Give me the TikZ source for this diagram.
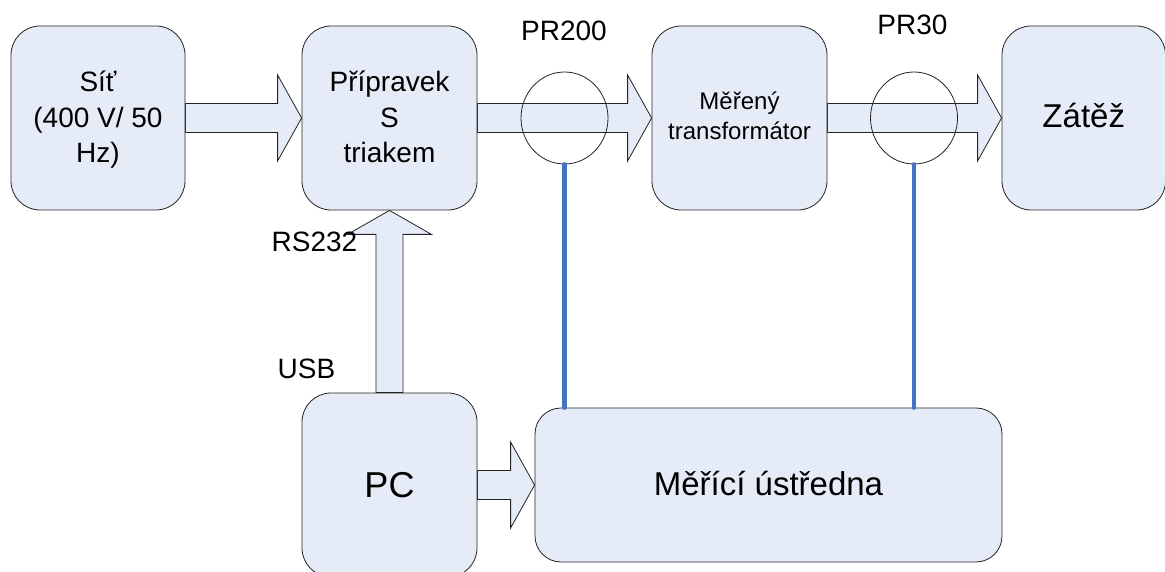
\documentclass[tikz,border=0pt]{standalone}
\usepackage{fontspec}
\setmainfont{Liberation Sans}
\usetikzlibrary{calc,shapes.geometric,backgrounds}
\definecolor{boxfill}{RGB}{230,236,247}
\definecolor{linkblue}{RGB}{68,114,196}
\definecolor{edgecol}{RGB}{35,35,35}
\newcommand{\harrow}[2]{%
  \draw[barrow] ($(#1.east)+(0,-14.5)$) -- ($(#2.west)+(-24,-14.5)$) -- ($(#2.west)+(-24,-43)$)
    -- (#2.west) -- ($(#2.west)+(-24,43)$) -- ($(#2.west)+(-24,14.5)$) -- ($(#1.east)+(0,14.5)$) -- cycle;}
\begin{document}
\begin{tikzpicture}[x=1pt,y=-1pt,
  box/.style={draw=edgecol, fill=boxfill, line width=0.8pt, inner sep=0pt, align=center},
  barrow/.style={draw=edgecol, fill=boxfill, line width=0.8pt, line join=miter},
  ring/.style={ellipse, draw=edgecol, line width=0.8pt, minimum width=87pt, minimum height=92pt, inner sep=0pt},
  wire/.style={draw=linkblue, line width=4.5pt, line cap=round},
  lbl/.style={font=\fontsize{28}{34}\selectfont, inner sep=0pt}]
\useasboundingbox (0,0) rectangle (1165,572);
% boxes
\node[box, rounded corners=29pt, minimum width=174pt, minimum height=184pt,
      font=\fontsize{28}{35.5}\selectfont] (sit) at (98,118)
  {\rule{0pt}{25pt}Síť\\(400 V/ 50\\Hz)\rule[-6pt]{0pt}{6pt}};
\node[box, rounded corners=29pt, minimum width=175pt, minimum height=184pt,
      font=\fontsize{28}{35.5}\selectfont] (pri) at (389.5,118)
  {\rule{0pt}{25pt}Přípravek\\S\\triakem\rule[-6pt]{0pt}{6pt}};
\node[box, rounded corners=29pt, minimum width=175pt, minimum height=184pt,
      font=\fontsize{24}{30}\selectfont] (mer) at (739.5,118)
  {\rule{0pt}{21pt}Měřený\\transformátor\rule[-7pt]{0pt}{7pt}};
\node[box, rounded corners=29pt, minimum width=163.5pt, minimum height=184pt,
      font=\fontsize{33}{40}\selectfont, text height=27pt, text depth=7pt] (zat) at (1083.75,118) {Zátěž};
\node[box, rounded corners=29pt, minimum width=175pt, minimum height=184pt,
      font=\fontsize{36}{43}\selectfont, text height=30pt, text depth=6pt] (pc) at (389.5,485) {PC};
\node[box, rounded corners=26pt, minimum width=467pt, minimum height=154pt,
      font=\fontsize{33}{40}\selectfont, text height=27pt, text depth=7pt] (ustr) at (768.5,485) {Měřící ústředna};
% block arrows
\begin{pgfonlayer}{background}
\harrow{sit}{pri}
\harrow{pri}{mer}
\harrow{mer}{zat}
\harrow{pc}{ustr}
\draw[barrow] ($(pc.north)+(-13.5,0)$) -- ($(pri.south)+(-13.5,24)$) -- ($(pri.south)+(-42,24)$)
  -- (pri.south) -- ($(pri.south)+(42,24)$) -- ($(pri.south)+(13.5,24)$) -- ($(pc.north)+(13.5,0)$) -- cycle;
\end{pgfonlayer}
% current transformers
\node[ring] (c1) at (564.5,118) {};
\node[ring] (c2) at (914,118) {};
\draw[wire] (c1.south) -- (c1.south |- ustr.north);
\draw[wire] (c2.south) -- (c2.south |- ustr.north);
% labels
\node[lbl, anchor=base] (l200) at (564,41) {PR200};
\node[lbl, anchor=base] (l30) at (912.5,35) {PR30};
\node[lbl, anchor=base] (rs) at (314.5,252) {RS232};
\node[lbl, anchor=base] (usb) at (306.5,378) {USB};
\end{tikzpicture}
\end{document}
